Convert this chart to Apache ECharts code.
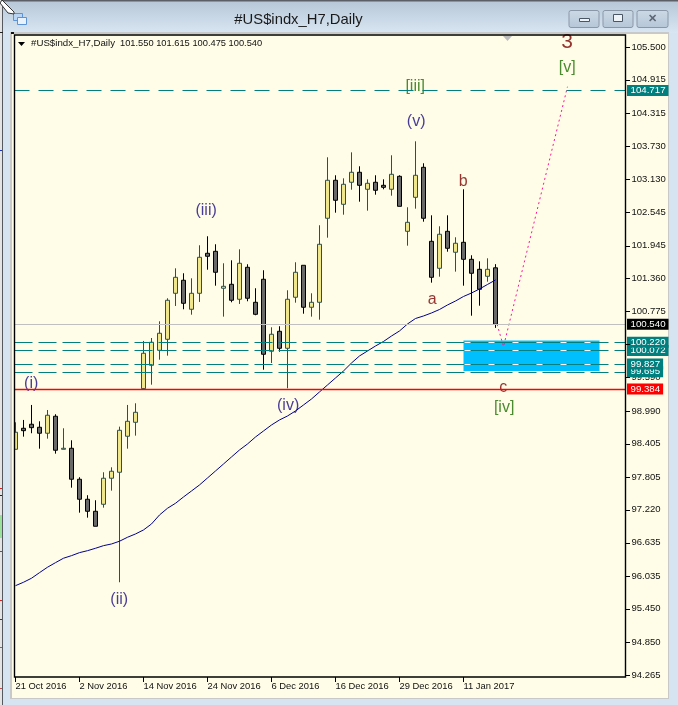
<!DOCTYPE html>
<html>
<head>
<meta charset="utf-8">
<style>html,body{margin:0;padding:0;background:#d6e4f2;overflow:hidden}#c{width:678px;height:705px}</style>
<script src="https://cdn.jsdelivr.net/npm/echarts@6/dist/echarts.min.js"></script>
</head>
<body>
<div id="c"></div>
<script>
const dates = ['21 Oct 2016','24 Oct 2016','25 Oct 2016','26 Oct 2016','27 Oct 2016','28 Oct 2016','31 Oct 2016','1 Nov 2016','2 Nov 2016','3 Nov 2016','4 Nov 2016','7 Nov 2016','8 Nov 2016','9 Nov 2016','10 Nov 2016','11 Nov 2016','14 Nov 2016','15 Nov 2016','16 Nov 2016','17 Nov 2016','18 Nov 2016','21 Nov 2016','22 Nov 2016','23 Nov 2016','24 Nov 2016','25 Nov 2016','28 Nov 2016','29 Nov 2016','30 Nov 2016','1 Dec 2016','2 Dec 2016','5 Dec 2016','6 Dec 2016','7 Dec 2016','8 Dec 2016','9 Dec 2016','12 Dec 2016','13 Dec 2016','14 Dec 2016','15 Dec 2016','16 Dec 2016','19 Dec 2016','20 Dec 2016','21 Dec 2016','22 Dec 2016','23 Dec 2016','27 Dec 2016','28 Dec 2016','29 Dec 2016','30 Dec 2016','3 Jan 2017','4 Jan 2017','5 Jan 2017','6 Jan 2017','9 Jan 2017','10 Jan 2017','11 Jan 2017','12 Jan 2017','13 Jan 2017','16 Jan 2017','17 Jan 2017'];
const opens = [98.303,98.679,98.751,98.697,98.590,98.894,98.303,98.321,97.767,97.409,97.194,97.319,97.785,97.892,98.536,98.786,99.388,99.806,100.074,100.271,101.094,101.327,100.808,101.094,101.810,101.845,101.184,101.255,100.987,101.559,100.933,101.345,100.057,100.414,100.110,101.023,101.595,100.844,100.933,102.436,103.116,102.686,103.080,103.259,102.955,103.080,103.026,102.955,103.187,102.203,102.811,103.348,102.024,101.541,102.203,101.828,102.006,101.702,101.523,101.398,101.550];
const closes = [98.608,98.636,98.690,98.590,98.912,98.286,98.321,97.767,97.409,97.194,96.926,97.785,97.910,98.643,98.804,98.965,100.021,100.218,100.379,100.969,101.380,100.915,101.094,101.738,101.756,101.470,101.219,100.969,101.631,101.005,100.718,100.003,100.361,100.110,100.987,101.470,100.844,100.933,101.971,103.116,102.758,103.044,103.259,103.026,103.062,102.937,102.990,103.223,102.650,102.364,103.205,102.436,101.380,102.150,101.899,101.989,101.702,101.452,101.166,101.523,100.540];
const lows = [98.303,98.529,98.590,98.314,98.493,98.225,98.303,97.616,97.169,97.080,96.926,97.259,97.563,95.924,98.314,98.547,99.377,99.459,99.906,99.978,100.867,100.808,100.711,100.939,101.516,101.230,100.676,100.933,100.903,100.951,100.701,99.727,99.847,100.049,99.395,100.926,100.729,100.676,100.622,102.089,102.536,102.500,102.947,102.733,102.572,102.858,102.955,102.840,102.650,101.946,102.608,102.375,101.284,101.391,101.838,101.481,101.230,100.693,100.872,101.302,100.475];
const highs = [98.786,98.828,99.096,98.804,99.006,98.930,98.679,98.464,97.803,97.481,97.391,97.892,97.981,98.708,99.096,99.126,100.241,100.294,100.593,101.005,101.541,101.452,101.362,101.953,102.114,101.971,101.631,101.684,101.881,101.613,101.184,101.506,100.486,100.504,101.148,101.649,101.595,101.094,102.311,103.527,103.205,103.151,103.616,103.366,103.133,103.205,103.133,103.563,103.205,102.633,103.813,103.420,102.489,102.293,102.489,102.096,102.955,101.774,101.666,101.720,101.615];
const movingAverage = [95.863,95.924,95.996,96.096,96.193,96.275,96.354,96.400,96.454,96.489,96.532,96.579,96.609,96.658,96.729,96.788,96.860,96.967,97.128,97.248,97.337,97.450,97.557,97.665,97.790,97.915,98.040,98.166,98.291,98.398,98.523,98.631,98.738,98.828,98.899,98.989,99.096,99.203,99.329,99.454,99.579,99.704,99.847,99.973,100.062,100.151,100.232,100.330,100.420,100.545,100.643,100.688,100.742,100.804,100.885,100.956,101.037,101.099,101.171,101.252,101.332];
const yTicks = [105.5,104.915,104.315,103.73,103.13,102.545,101.945,101.36,100.775,100.19,99.59,98.99,98.405,97.805,97.22,96.635,96.035,95.45,94.85,94.265];
const xTicks = [0,8,16,24,32,40,48,56];
const projectionX = [60.2,61,69];
const projectionY = [100.54,100.14,104.79];
const levelLast = 100.54;
const levelTop = 104.717;
const levelsZone = [100.22,100.072,99.827,99.695];
const levelRed = 99.384;
const zoneX = [56,73];
const zoneY = [100.25,99.695];
const blueWaves = [['(i)',1.96,99.47],['(ii)',12.96,95.61],['(iii)',23.83,102.57],['(iv)',34.08,99.08],['(v)',50.08,104.17]];
const redWaves = [['a',52.08,100.99],['b',55.96,103.10],['c',60.96,99.40]];
const greenWaves = [['[iv]',61.08,99.04],['[v]',68.96,105.14],['[iii]',49.96,104.80]];
const degreeWaves = [['3',68.96,105.59]];
const header = '#US$indx_H7,Daily';
const ohlcText = '101.550 101.615 100.475 100.540';

const FONT = '"Liberation Sans", Arial, sans-serif';
const TEAL = '#007f7f';
const CREAM = '#fffde8';
const X_MIN = -0.125, X_MAX = 76.25, Y_MIN = 94.229, Y_MAX = 105.715;

function waveSeries(list, color, size) {
  return {
    type: 'scatter', symbol: 'circle', symbolSize: 1, silent: true, z: 6, clip: false,
    itemStyle: { color: 'rgba(0,0,0,0)' },
    data: list.map(w => ({ value: [w[1], w[2]], name: w[0] })),
    label: { show: true, position: 'inside', formatter: p => p.name, color, fontFamily: FONT, fontSize: size }
  };
}
function priceLine(v, color, dash, text, bg, width) {
  return {
    yAxis: v,
    lineStyle: { color, type: dash, width: width || 1 },
    label: {
      show: true, position: 'end', distance: 1.5, formatter: text, color: '#fff', backgroundColor: bg,
      fontFamily: FONT, fontSize: 9.7, lineHeight: 10, padding: [1, 3, 0, 3.5]
    }
  };
}
function rect(x, y, w, h, fill, z) {
  return { type: 'rect', shape: { x, y, width: w, height: h }, style: { fill }, z: z === undefined ? -10 : z, silent: true };
}
function button(x, w) {
  return {
    type: 'rect', shape: { x: x + .5, y: 10.5, width: w, height: 17, r: 2 }, z: -9, silent: true,
    style: {
      stroke: '#8a97a6', lineWidth: 1,
      fill: new echarts.graphic.LinearGradient(0, 0, 0, 1, [{ offset: 0, color: '#ccd9e6' }, { offset: 1, color: '#b6c6d7' }])
    }
  };
}
const chrome = [
  rect(0, 0, 678, 705, '#d6e4f2'),
  { type: 'rect', shape: { x: 0, y: 0, width: 678, height: 33 }, z: -10, silent: true, style: { fill: new echarts.graphic.LinearGradient(0, 0, 0, 1, [{ offset: 0, color: '#b7c6d6' }, { offset: 1, color: '#d8e6f3' }]) } },
  rect(0, 0, 3, 705, '#e4e4e4'),
  rect(2, 0, 1, 705, '#555a60'),
  rect(3, 0, 675, 1.5, '#5c6066'),
  rect(0, 32, 3, 1, '#222'), rect(0, 150, 2, 1, '#1a33cc'), rect(0, 488, 2, 1, '#e02020'), rect(0, 495, 2, 1, '#222'),
  rect(0, 515, 2, 23, '#9be09b'), rect(0, 551, 2, 1, '#e02020'), rect(0, 600, 2, 1, '#e02020'), rect(0, 619, 2, 1, '#2030cc'), rect(0, 647, 2, 1, '#e020e0'), rect(0, 688, 2, 1, '#c05050'),
  rect(10, 32, 659, 667, '#c9c9c9'),
  rect(12, 34, 656, 664, CREAM),
  rect(10, 36, 2, 640, '#c9c9c9', 25),
  rect(12, 36, 2.5, 640, CREAM, 25),
  rect(11, 32, 3, 2, '#111'),
  button(568.5, 30), button(602.5, 30), button(636.5, 31),
  { type: 'rect', shape: { x: 613.5, y: 14.5, width: 9, height: 7 }, style: { fill: '#eef3f8', stroke: '#4a5663' }, z: -8, silent: true },
  { type: 'rect', shape: { x: 579.5, y: 18.5, width: 10, height: 3 }, style: { fill: '#eef3f8', stroke: '#4a5663' }, z: -8, silent: true },
  { type: 'text', style: { text: '✕', x: 652, y: 19, align: 'center', verticalAlign: 'middle', fill: '#5d6874', font: 'bold 11px ' + FONT }, z: -8, silent: true },
  { type: 'rect', shape: { x: 13.5, y: 13.5, width: 9, height: 7 }, style: { fill: '#b9d5f3', stroke: '#5b93d6' }, z: -8, silent: true },
  { type: 'rect', shape: { x: 17.5, y: 17.5, width: 9, height: 7 }, style: { fill: '#e8f2fc', stroke: '#5b93d6' }, z: -8, silent: true },
  { type: 'polygon', shape: { points: [[2, 0], [14, 12], [14, 14], [8, 13], [0, 3]] }, style: { fill: '#fff', stroke: '#333' }, z: 20, silent: true },
  { type: 'text', style: { text: header, x: 298.5, y: 20, align: 'center', verticalAlign: 'middle', fill: '#1a1a1a', font: '14.8px ' + FONT }, z: -8, silent: true },
  { type: 'rect', shape: { x: 14.5, y: 35, width: 611, height: 642 }, style: { fill: 'none', stroke: '#000', lineWidth: 1.4 }, z: 30, silent: true },
  { type: 'polygon', shape: { points: [[18, 42], [25, 42], [21.5, 46]] }, style: { fill: '#000' }, z: 31, silent: true },
  { type: 'polygon', shape: { points: [[503, 36], [512, 36], [507.5, 41]] }, style: { fill: '#bdbdbd' }, z: 31, silent: true },
  { type: 'text', style: { text: header, x: 31, y: 43.5, verticalAlign: 'middle', fill: '#111', font: '9.7px ' + FONT }, z: 31, silent: true },
  { type: 'text', style: { text: ohlcText, x: 120, y: 43.5, verticalAlign: 'middle', fill: '#111', font: '9.3px ' + FONT }, z: 31, silent: true }
];

const chart = echarts.init(document.getElementById('c'), null, { renderer: 'canvas', width: 678, height: 705 });
chart.setOption({
  animation: false,
  backgroundColor: 'transparent',
  graphic: { elements: chrome },
  grid: { left: 14.5, top: 35, width: 611, height: 642, show: false },
  xAxis: {
    type: 'value', min: X_MIN, max: X_MAX, splitLine: { show: false }, z: 8,
    axisLine: { show: false, onZero: false },
    axisTick: { show: false },
    axisLabel: {
      show: true, customValues: xTicks, margin: 5, align: 'left', color: '#111', fontFamily: FONT, fontSize: 9.4,
      formatter: v => dates[v] || ''
    }
  },
  yAxis: {
    type: 'value', position: 'right', min: Y_MIN, max: Y_MAX, scale: true, splitLine: { show: false }, z: 8,
    axisLine: { show: false, onZero: false },
    axisTick: { show: false },
    axisLabel: {
      show: true, customValues: yTicks, margin: 6, hideOverlap: false, color: '#111', fontFamily: FONT, fontSize: 9.5,
      formatter: v => v.toFixed(3)
    }
  },
  series: [
    {
      type: 'line', silent: true, z: 1, symbol: 'none', data: [],
      markArea: {
        silent: true, itemStyle: { color: '#00bfff' },
        data: [[{ coord: [zoneX[0], zoneY[0]] }, { coord: [zoneX[1], zoneY[1]] }]]
      },
      markLine: {
        silent: true, symbol: 'none', z: 2, animation: false, label: { show: false },
        lineStyle: { color: '#fff', type: 'solid', width: 1 },
        data: levelsZone.map(v => [{ coord: [zoneX[0], v] }, { coord: [zoneX[1], v] }])
      }
    },
    {
      type: 'candlestick', z: 4, barWidth: 5, clip: true,
      encode: { x: 0, y: [1, 2, 3, 4] },
      itemStyle: { color: '#f0e68c', color0: '#696969', borderColor: '#2f4f4f', borderColor0: '#000', borderWidth: 1 },
      data: opens.map((o, i) => [i, o, closes[i], lows[i], highs[i]]),
      markLine: {
        silent: true, symbol: 'none', z: 9, animation: false,
        data: [
          priceLine(levelLast, '#c0c0c0', 'solid', levelLast.toFixed(3), '#000'),
          priceLine(levelTop, TEAL, [15, 9], levelTop.toFixed(3), TEAL),
          priceLine(levelsZone[3], TEAL, [18, 6], levelsZone[3].toFixed(3), TEAL),
          priceLine(levelsZone[2], TEAL, [18, 6], levelsZone[2].toFixed(3), TEAL),
          priceLine(levelsZone[1], TEAL, [18, 6], levelsZone[1].toFixed(3), TEAL),
          priceLine(levelsZone[0], TEAL, [18, 6], levelsZone[0].toFixed(3), TEAL),
          priceLine(levelRed, '#ff0000', 'solid', levelRed.toFixed(3), '#ff0000', 1.3)
        ]
      }
    },
    {
      type: 'line', z: 5, symbol: 'none', silent: true,
      lineStyle: { color: '#00008b', width: 1 },
      data: movingAverage.map((v, i) => [i, v])
    },
    {
      type: 'line', z: 5, symbol: 'none', silent: true,
      lineStyle: { color: '#ff1493', width: 1, type: [2, 3] },
      data: projectionX.map((x, i) => [x, projectionY[i]])
    },
    waveSeries(blueWaves, '#1a0a80', 16),
    waveSeries(redWaves, '#7a0000', 16),
    waveSeries(greenWaves, '#1e6e00', 16),
    waveSeries(degreeWaves, '#7a0000', 21)
  ]
});

// Tick marks placed through the chart's own scales.
const tickMarks = [];
yTicks.forEach(v => {
  const p = chart.convertToPixel({ gridIndex: 0 }, [X_MAX, v]);
  tickMarks.push(rect(Math.floor(p[0]), Math.round(p[1]), 5, 1, '#000', 32));
});
xTicks.forEach(v => {
  const p = chart.convertToPixel({ gridIndex: 0 }, [v, Y_MIN]);
  tickMarks.push(rect(Math.floor(p[0]), Math.floor(p[1]), 1, 5, '#000', 32));
});
chart.setOption({ graphic: { elements: chrome.concat(tickMarks) } });
</script>
</body>
</html>
